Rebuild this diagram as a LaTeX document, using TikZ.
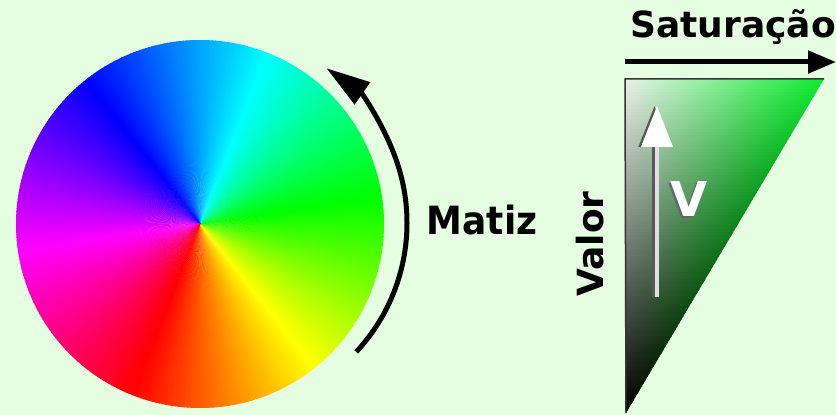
\documentclass[tikz,border=0pt]{standalone}
\usepackage{fontspec}
\newfontfamily\labelfont{DejaVu Sans}
\usetikzlibrary{arrows.meta,positioning,calc}
\definecolor{bgcol}{HTML}{E5FDE0}
\tikzset{every picture/.style={line width=0.75pt}}
\tikzset{
  tag/.style={font=\labelfont\bfseries\fontsize{36}{40}\selectfont, inner sep=0pt},
  fatline/.style={line width=5pt},
}

\begin{document}
\begin{tikzpicture}[x=1pt,y=1pt]
    \fill[bgcol] (0,0) rectangle (836,415);
    \useasboundingbox (0,0) rectangle (836,415);
    % hue wheel
    \coordinate (hue) at (200,191);
    \foreach \a in {0,...,359}{
        \pgfmathsetmacro\th{248+\a}
        \definecolor{wedge}{Hsb}{\a,1,1}
        \fill[wedge] (hue) -- +(\th:184) arc[start angle=\th, delta angle=1.4, radius=184] -- cycle;
    }
    \coordinate (arcc) at (218,192);
    \draw[fatline, -{Triangle[length=44pt,width=26pt]}] ($(arcc)+(-43:189)$) arc[start angle=-43, end angle=55, radius=189];
    \node[tag, anchor=base, yscale=1.08] (matiz) at (482,180) {Matiz};
    % value / saturation triangle
    \coordinate (tl) at (625,336);
    \coordinate (tr) at (824,336);
    \coordinate (tb) at (626,2);
    \begin{scope}
        \clip (tl) -- (tr) -- (tb) -- cycle;
        \foreach \i in {0,...,99}{
            \pgfmathsetmacro\yt{336-3.34*\i}
            \pgfmathsetmacro\v{1-(\i+0.5)/100}
            \pgfmathsetmacro\xh{628+0.5928*(\yt-2)}
            \pgfmathsetmacro\gl{0.92*\v}
            \pgfmathsetmacro\gm{0.95*\v}
            \pgfmathsetmacro\mr{0.37*\v}
            \pgfmathsetmacro\mg{0.94*\v}
            \pgfmathsetmacro\mb{0.42*\v}
            \pgfmathsetmacro\gr{0.93*\v}
            \pgfmathsetmacro\br{0.18*\v}
            \definecolor{satl}{rgb}{\gl,\gm,\gl}
            \definecolor{satm}{rgb}{\mr,\mg,\mb}
            \definecolor{satr}{rgb}{0.04,\gr,\br}
            \shade[left color=satl, middle color=satm, right color=satr] (625,\yt-4) rectangle (\xh,\yt);
        }
    \end{scope}
    \draw[black!80, line width=1.5pt] (tb) -- (tl) -- (tr);
    \coordinate (vlow) at (657,118);
    \coordinate (vhigh) at (657,309);
    \draw[fatline, black!65, -{Triangle[length=41pt,width=31pt]}] ([xshift=-2.5pt]vlow) -- ([xshift=-2.5pt]vhigh);
    \draw[line width=4pt, black!12, -{Triangle[length=41pt,width=31pt,color=white]}] (vlow) -- (vhigh);
    \node[tag, text=black!60, anchor=base, font=\labelfont\bfseries\fontsize{48}{50}\selectfont] (vshadow) at (687.5,196) {V};
    \node[tag, text=white, anchor=base, font=\labelfont\bfseries\fontsize{48}{50}\selectfont] (vlabel) at (689.5,198) {V};
    \node[tag, rotate=90, anchor=base] (valor) at (603,171) {Valor};
    \coordinate (satfrom) at (625,353);
    \coordinate (satto) at (836,353);
    \draw[fatline, -{Triangle[length=28pt,width=22pt]}] (satfrom) -- (satto);
    \node[tag, anchor=base west] (saturacao) at (630,377) {Saturação};
\end{tikzpicture}
\end{document}
